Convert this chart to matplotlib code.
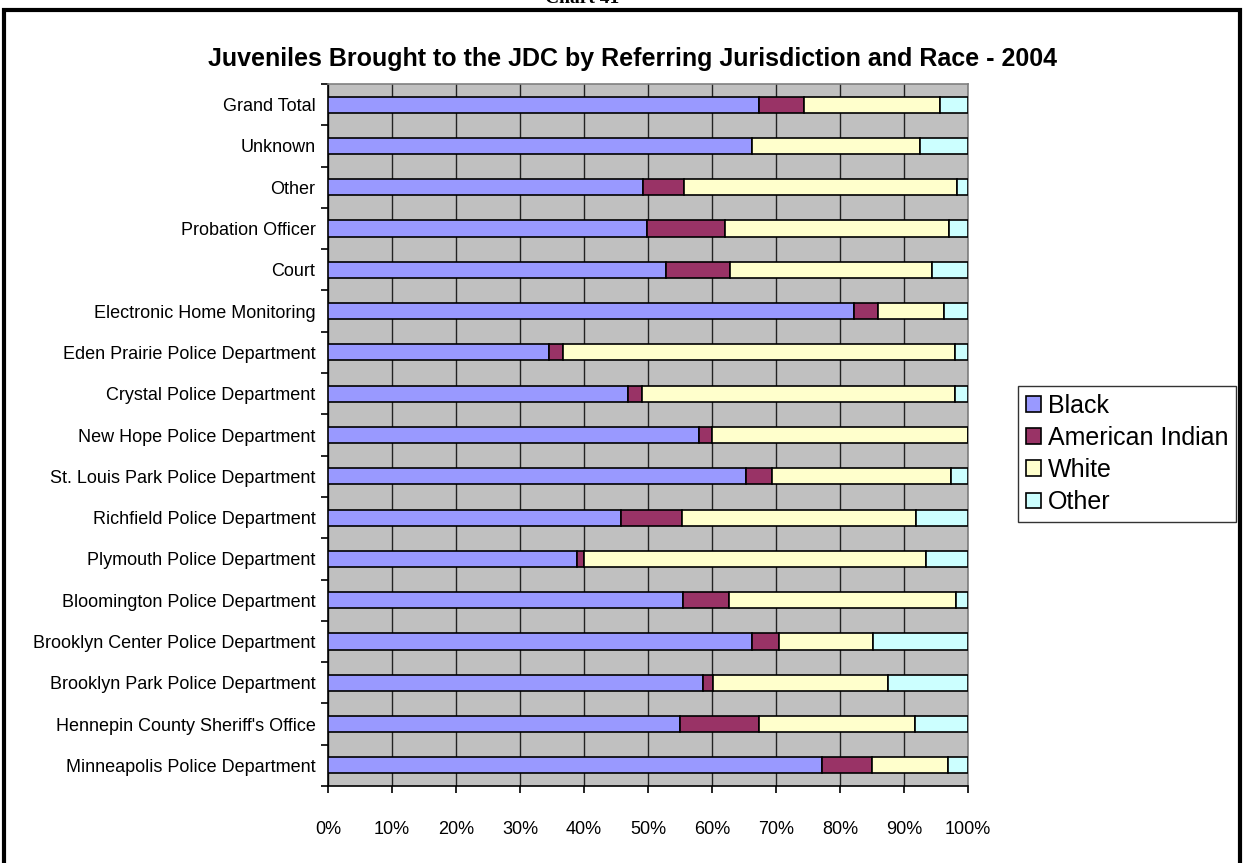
import numpy as np
import matplotlib.pyplot as plt
from matplotlib.patches import Rectangle

plt.rcParams['font.family'] = ['Liberation Sans', 'DejaVu Sans']

# categories from bottom to top
categories = ['Minneapolis Police Department', "Hennepin County Sheriff's Office",
              'Brooklyn Park Police Department', 'Brooklyn Center Police Department',
              'Bloomington Police Department', 'Plymouth Police Department',
              'Richfield Police Department', 'St. Louis Park Police Department',
              'New Hope Police Department', 'Crystal Police Department',
              'Eden Prairie Police Department', 'Electronic Home Monitoring',
              'Court', 'Probation Officer', 'Other', 'Unknown', 'Grand Total']

# percentages
black = [77.2, 55.0, 58.6, 66.3, 55.5, 38.9, 45.8, 65.3, 58.0, 46.9, 34.6, 82.2,
         52.8, 49.9, 49.2, 66.3, 67.3]
am_indian = [7.8, 12.3, 1.5, 4.1, 7.1, 1.1, 9.5, 4.1, 2.0, 2.1, 2.1, 3.7,
             10.0, 12.2, 6.5, 0.0, 7.0]
white = [11.8, 24.4, 27.4, 14.8, 35.5, 53.4, 36.5, 27.9, 40.0, 49.0, 61.3, 10.4,
         31.5, 34.9, 42.6, 26.2, 21.3]
other = [3.2, 8.3, 12.5, 14.8, 1.9, 6.6, 8.2, 2.7, 0.0, 2.0, 2.0, 3.7,
         5.7, 3.0, 1.7, 7.5, 4.4]

series = ['Black', 'American Indian', 'White', 'Other']
colors = ['#9999FF', '#993366', '#FFFFCC', '#CCFFFF']

data = np.array([black, am_indian, white, other])
data = data / data.sum(axis=0) * 100

fig = plt.figure(figsize=(12.44, 8.63), dpi=100, facecolor='white')
W, H = 1244, 863
ax = fig.add_axes([328 / W, 1 - 786 / H, 640 / W, 702 / H])
ax.set_facecolor('#C0C0C0')

y = np.arange(len(categories))
left = np.zeros(len(categories))
for i in range(4):
    ax.barh(y, data[i], left=left, height=0.39, color=colors[i],
            edgecolor='black', linewidth=1.2, label=series[i], zorder=3)
    left = left + data[i]

ax.set_xlim(0, 100)
ax.set_ylim(-0.5, len(categories) - 0.5)
ax.set_xticks(np.arange(0, 101, 10))
ax.set_xticklabels([str(v) + '%' for v in range(0, 101, 10)], fontsize=13)
ax.set_yticks(y)
ax.set_yticklabels(categories, fontsize=13)
ax.set_yticks(np.arange(-0.5, len(categories), 1), minor=True)
ax.tick_params(axis='y', which='major', length=0, pad=9)
ax.tick_params(axis='y', which='minor', length=5, width=1.2, direction='out')
ax.tick_params(axis='x', length=5, width=1.2, direction='out', pad=20)
ax.grid(axis='x', color='#222222', linewidth=1.0, zorder=1)
ax.set_axisbelow(True)

for s in ['top', 'right']:
    ax.spines[s].set_color('#808080')
    ax.spines[s].set_linewidth(1.2)
for s in ['left', 'bottom']:
    ax.spines[s].set_color('black')
    ax.spines[s].set_linewidth(1.2)

fig.text(632 / W, 1 - 59 / H,
         'Juveniles Brought to the JDC by Referring Jurisdiction and Race - 2004',
         ha='center', va='center', fontsize=18, fontweight='bold')

# figure frame and page caption (cut off at the top, as on the page)
fig.patches.append(Rectangle((4 / W, -0.05), 1236 / W, 1.05 - 10 / H,
                             transform=fig.transFigure, fill=False,
                             edgecolor='black', linewidth=3))
fig.text(582 / W, 1 - 3 / H, 'Chart 41', ha='center', va='baseline',
         fontsize=14, fontweight='bold', family='Liberation Serif')

leg = fig.legend(loc='center left', bbox_to_anchor=(1018 / W, 1 - 454 / H),
                 fontsize=18, frameon=True, fancybox=False, handlelength=0.6,
                 handleheight=0.6, handletextpad=0.3, labelspacing=0.33,
                 borderpad=0.3, borderaxespad=0)
leg.get_frame().set_edgecolor('black')
leg.get_frame().set_linewidth(1.0)

fig.savefig('out.png', dpi=100)
